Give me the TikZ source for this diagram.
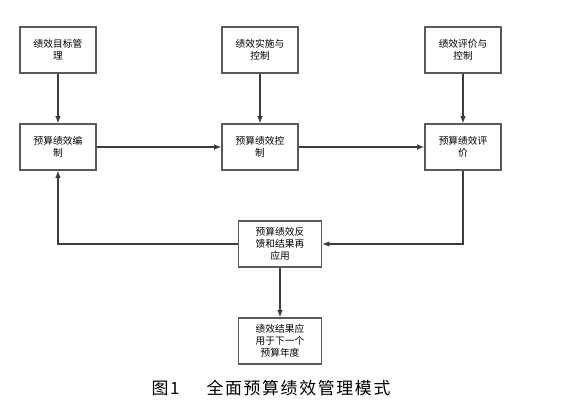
\documentclass[tikz,border=0pt]{standalone}
\usepackage{fontspec}
\setmainfont{Noto Sans CJK SC}
\newfontfamily\capfont{Noto Sans CJK SC}[LetterSpace=10]
\usetikzlibrary{arrows.meta,positioning,calc}
\definecolor{boxgray}{RGB}{90,90,90}
\definecolor{linegray}{RGB}{60,60,60}

\begin{document}
\begin{tikzpicture}[x=0.025cm, y=-0.025cm, font=\fontsize{6.9}{8.6}\selectfont,
  blk/.style={draw=boxgray, line width=0.9pt, fill=white, minimum width=1.9cm, minimum height=1.15cm, align=center, inner sep=1pt},
  wblk/.style={blk, minimum width=2.08cm, text width=1.8cm},
  conn/.style={-{Latex[length=1.8mm,width=1.4mm]}, line width=0.8pt, linegray}]
\useasboundingbox (0,0) rectangle (563,407);
\node[blk] (goal) at (58,50) {绩效目标管\\理};
\node[blk] (impl) at (260,50) {绩效实施与\\控制};
\node[blk] (eval) at (463,50) {绩效评价与\\控制};
\node[blk] (plan) at (58,147) {预算绩效编\\制};
\node[blk] (ctrl) at (260,147) {预算绩效控\\制};
\node[blk] (rate) at (463,147) {预算绩效评\\价};
\node[wblk] (feed) at (280,244) {预算绩效反\\馈和结果再\\应用};
\node[wblk] (next) at (280,341) {绩效结果应\\用于下一个\\预算年度};
\draw[conn] (goal)--(plan);
\draw[conn] (impl)--(ctrl);
\draw[conn] (eval)--(rate);
\draw[conn] (plan)--(ctrl);
\draw[conn] (ctrl)--(rate);
\draw[conn] (rate.south) |- (feed.east);
\draw[conn] (feed.west) -| (plan.south);
\draw[conn] (feed)--(next);
\node[font=\capfont\fontsize{12}{14}\selectfont] (cap) at (271,388) {图1\hspace{1.6em}全面预算绩效管理模式};
\end{tikzpicture}
\end{document}
